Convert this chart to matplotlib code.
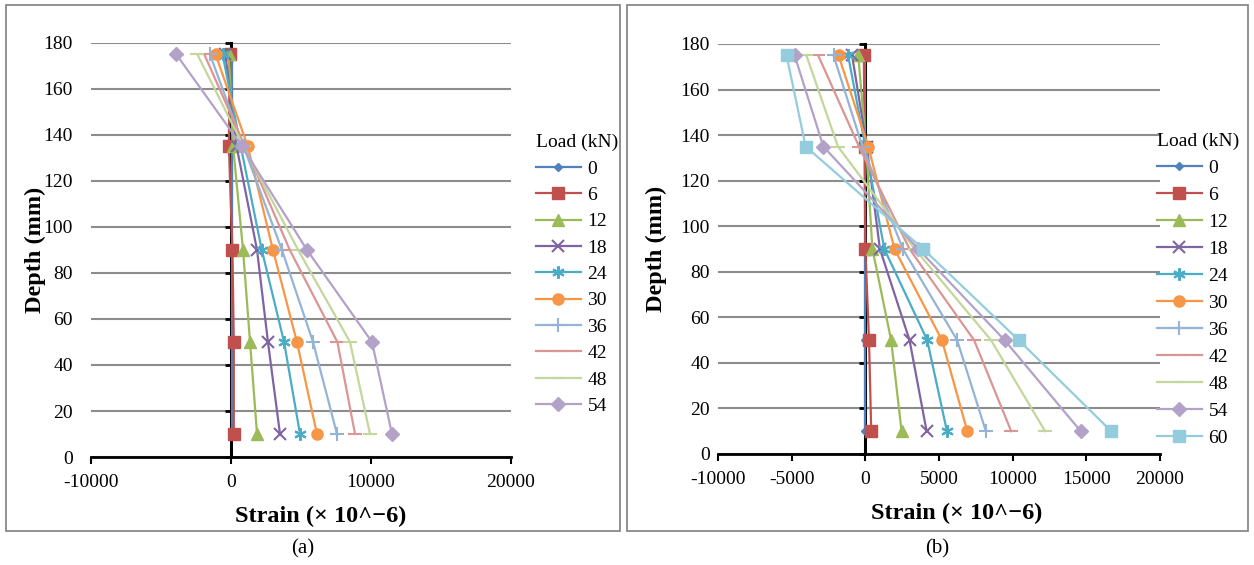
import matplotlib
matplotlib.use("Agg")
import matplotlib.pyplot as plt
from matplotlib.patches import Rectangle

plt.rcParams['font.family'] = ['Liberation Serif', 'DejaVu Serif']
plt.rcParams['axes.unicode_minus'] = False

depths = [175, 135, 90, 50, 10]

loads_a = [0, 6, 12, 18, 24, 30, 36, 42, 48, 54]
strain_a = [
    [50, 50, 50, 50, 50],
    [-100, -150, 100, 200, 200],
    [-150, 150, 860, 1360, 1860],
    [-400, 400, 1860, 2640, 3500],
    [-600, 700, 2200, 3790, 4930],
    [-1100, 1200, 3000, 4710, 6140],
    [-1500, 900, 3640, 5860, 7570],
    [-1900, 1000, 4200, 7600, 8860],
    [-2400, 900, 4800, 8500, 9930],
    [-3900, 800, 5430, 10070, 11500],
]

loads_b = [0, 6, 12, 18, 24, 30, 36, 42, 48, 54, 60]
strain_b = [
    [0, 0, 0, 0, 0],
    [-100, -50, 0, 250, 400],
    [-480, 50, 480, 1750, 2460],
    [-900, 100, 990, 3000, 4160],
    [-1170, 0, 1290, 4200, 5540],
    [-1820, 200, 1980, 5200, 6920],
    [-2160, -200, 2550, 6230, 8180],
    [-3200, -430, 3000, 7380, 9900],
    [-4000, -1860, 3360, 8530, 12200],
    [-4800, -2850, 3590, 9450, 14620],
    [-5350, -4050, 3930, 10410, 16690],
]

colors = ['#4F81BD', '#C0504D', '#9BBB59', '#8064A2', '#4BACC6', '#F79646',
          '#95B3D7', '#D99694', '#C3D69B', '#B3A2C7', '#93CDDD']
markers = ['D', 's', '^', 'x', (6, 2, 0), 'o', '+', '_', '_', 'D', 's']
msizes = [4, 8.5, 8, 8, 9, 8, 10, 10, 10, 7, 8.5]

W, H = 1254, 565
fig = plt.figure(figsize=(W / 100, H / 100), dpi=100)


def panel(box, ax_px, xticks, loads, strains, leg_px, spacing, letter, letter_x,
          ypad, xlab_x):
    # frame around the panel
    x0, y0, x1, y1 = box
    fig.patches.append(Rectangle((x0 / W, 1 - y1 / H), (x1 - x0) / W, (y1 - y0) / H,
                                 transform=fig.transFigure, fill=False,
                                 edgecolor='#7f7f7f', lw=1.2))
    l, t, r, b = ax_px
    ax = fig.add_axes([l / W, 1 - b / H, (r - l) / W, (b - t) / H])
    for i, (ld, s) in enumerate(zip(loads, strains)):
        thin = markers[i] in ('x', '+', '_') or isinstance(markers[i], tuple)
        ax.plot(s, depths, color=colors[i], marker=markers[i], ms=msizes[i],
                lw=1.6, mew=1.5 if thin else 1, label=str(ld), zorder=3 + i)
    ax.set_xlim(-10000, 20000)
    ax.set_ylim(0, 180)
    ax.set_xticks(xticks)
    ax.set_yticks(range(0, 181, 20))
    ax.grid(axis='y', color='#8c8c8c', lw=1.5)
    ax.set_axisbelow(True)
    for sp in ('top', 'right'):
        ax.spines[sp].set_visible(False)
    ax.spines['bottom'].set_linewidth(2)
    ax.spines['left'].set_position(('data', 0))
    ax.spines['left'].set_linewidth(2.2)
    ax.spines['left'].set_zorder(2.5)
    ax.tick_params(axis='y', labelleft=False, direction='out', length=4, width=2)
    ax.tick_params(axis='x', direction='out', length=5, width=1.5, labelsize=14, pad=7)
    sec = ax.secondary_yaxis('left')
    sec.spines['left'].set_visible(False)
    sec.set_yticks(range(0, 181, 20))
    sec.tick_params(length=0, labelsize=14, pad=ypad)
    ax.set_xlabel('Strain (× 10^−6)', fontsize=17.5, fontweight='bold')
    ax.xaxis.set_label_coords(xlab_x, -59 / (b - t), transform=ax.transAxes)
    ax.xaxis.label.set_va('center')
    fig.text((x0 + 29) / W, 1 - ((t + b) / 2) / H, 'Depth (mm)', rotation=90,
             ha='center', va='center', fontsize=17.5, fontweight='bold')
    fig.legend(*ax.get_legend_handles_labels(), loc='upper left',
               bbox_to_anchor=(leg_px[0] / W, 1 - leg_px[1] / H),
               frameon=False, title='Load (kN)', fontsize=14,
               title_fontsize=14, handlelength=2.3, handletextpad=0.35,
               labelspacing=spacing, alignment='left', borderpad=0,
               borderaxespad=0)
    fig.text(letter_x / W, 1 - 549 / H, letter, ha='center', va='center', fontsize=15)
    return ax


panel((6, 5, 620, 531), (91, 43, 511, 457), [-10000, 0, 10000, 20000],
      loads_a, strain_a, (536, 134), 0.45, '(a)', 303, 13, 0.548)
panel((627, 5, 1248, 531), (718, 44, 1160, 454), list(range(-10000, 20001, 5000)),
      loads_b, strain_b, (1157, 133), 0.48, '(b)', 937, 6, 0.54)

fig.savefig('out.png', dpi=100)
